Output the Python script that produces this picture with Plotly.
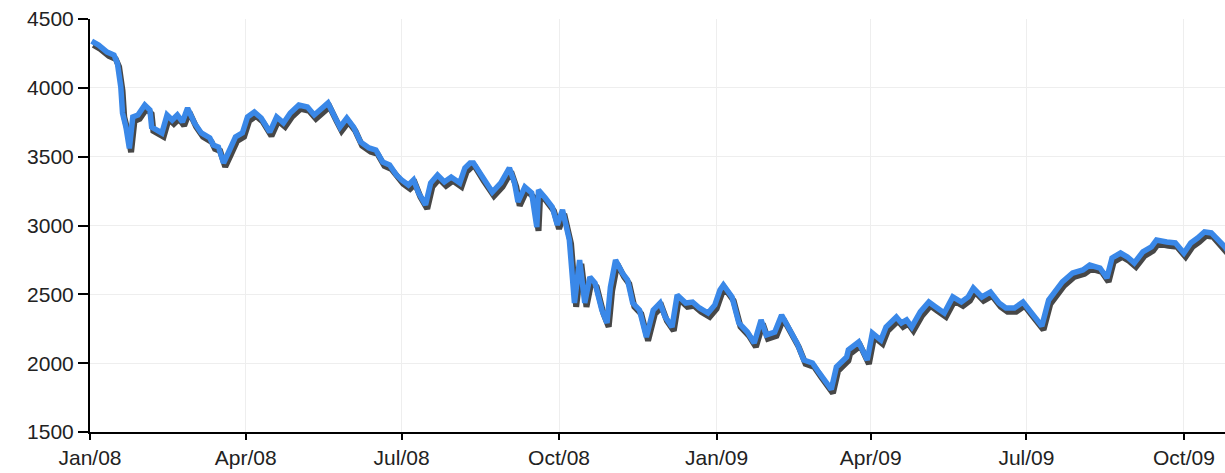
import plotly.graph_objects as go
import pandas as pd

dates = [
    "2008-01-02", "2008-01-06", "2008-01-11", "2008-01-15", "2008-01-17", "2008-01-19", "2008-01-20",
    "2008-01-22", "2008-01-24", "2008-01-26", "2008-01-29", "2008-02-02", "2008-02-05", "2008-02-06",
    "2008-02-12", "2008-02-15", "2008-02-18", "2008-02-21", "2008-02-24", "2008-02-27", "2008-03-02",
    "2008-03-06", "2008-03-11", "2008-03-13", "2008-03-16", "2008-03-19", "2008-03-22", "2008-03-26",
    "2008-03-30", "2008-04-02", "2008-04-06", "2008-04-10", "2008-04-15", "2008-04-19", "2008-04-23",
    "2008-04-27", "2008-05-02", "2008-05-07", "2008-05-11", "2008-05-15", "2008-05-19", "2008-05-23",
    "2008-05-26", "2008-05-30", "2008-06-03", "2008-06-07", "2008-06-12", "2008-06-16", "2008-06-20",
    "2008-06-24", "2008-06-28", "2008-07-01", "2008-07-05", "2008-07-08", "2008-07-11", "2008-07-15",
    "2008-07-18", "2008-07-22", "2008-07-26", "2008-07-30", "2008-08-04", "2008-08-07", "2008-08-10",
    "2008-08-12", "2008-08-17", "2008-08-23", "2008-08-28", "2008-09-02", "2008-09-05", "2008-09-07",
    "2008-09-11", "2008-09-15", "2008-09-18", "2008-09-19", "2008-09-23", "2008-09-27", "2008-09-30",
    "2008-10-03", "2008-10-07", "2008-10-10", "2008-10-13", "2008-10-16", "2008-10-19", "2008-10-22",
    "2008-10-26", "2008-10-29", "2008-10-31", "2008-11-03", "2008-11-07", "2008-11-10", "2008-11-13",
    "2008-11-17", "2008-11-21", "2008-11-25", "2008-11-29", "2008-12-02", "2008-12-06", "2008-12-09",
    "2008-12-14", "2008-12-18", "2008-12-22", "2008-12-27", "2008-12-31", "2009-01-03", "2009-01-05",
    "2009-01-10", "2009-01-14", "2009-01-19", "2009-01-23", "2009-01-27", "2009-01-30", "2009-02-04",
    "2009-02-08", "2009-02-12", "2009-02-17", "2009-02-21", "2009-02-26", "2009-03-02", "2009-03-06",
    "2009-03-09", "2009-03-12", "2009-03-18", "2009-03-19", "2009-03-25", "2009-03-30", "2009-04-02",
    "2009-04-07", "2009-04-10", "2009-04-16", "2009-04-19", "2009-04-22", "2009-04-25", "2009-04-30",
    "2009-05-05", "2009-05-09", "2009-05-14", "2009-05-19", "2009-05-24", "2009-05-28", "2009-05-31",
    "2009-06-05", "2009-06-10", "2009-06-15", "2009-06-19", "2009-06-24", "2009-06-29", "2009-07-04",
    "2009-07-08", "2009-07-10", "2009-07-14", "2009-07-22", "2009-07-28", "2009-08-03", "2009-08-07",
    "2009-08-13", "2009-08-17", "2009-08-20", "2009-08-25", "2009-08-29", "2009-09-02", "2009-09-07",
    "2009-09-12", "2009-09-15", "2009-09-21", "2009-09-26", "2009-10-01", "2009-10-05", "2009-10-09",
    "2009-10-13", "2009-10-17", "2009-10-21", "2009-10-25", "2009-10-28",
]

values = [
    4340, 4311, 4260, 4238, 4180, 4006, 3817,
    3715, 3560, 3788, 3803, 3875, 3839, 3715,
    3672, 3803, 3766, 3803, 3752, 3853, 3745,
    3672, 3636, 3585, 3570, 3454, 3534, 3643,
    3672, 3788, 3824, 3781, 3679, 3788, 3745,
    3817, 3875, 3861, 3803, 3853, 3890, 3788,
    3715, 3781, 3715, 3607, 3563, 3548, 3461,
    3439, 3367, 3331, 3294, 3331, 3236, 3150,
    3309, 3367, 3316, 3352, 3309, 3418, 3454,
    3454, 3352, 3243, 3309, 3418, 3309, 3171,
    3280, 3236, 2989, 3258, 3200, 3134, 3004,
    3113, 2895, 2437, 2749, 2437, 2626, 2582,
    2386, 2292, 2553, 2749, 2655, 2604, 2437,
    2386, 2190, 2386, 2437, 2336, 2263, 2495,
    2437, 2444, 2401, 2364, 2423, 2531, 2568,
    2481, 2292, 2226, 2146, 2314, 2205, 2226,
    2350, 2263, 2146, 2023, 2001, 1929, 1856,
    1810, 1972, 2045, 2096, 2154, 2023, 2219,
    2168, 2263, 2336, 2292, 2314, 2263, 2372,
    2444, 2408, 2364, 2481, 2444, 2481, 2546,
    2481, 2517, 2437, 2401, 2401, 2444, 2364,
    2299, 2270, 2459, 2590, 2655, 2677, 2713,
    2691, 2619, 2764, 2800, 2771, 2728, 2808,
    2844, 2895, 2880, 2873, 2800, 2873, 2909,
    2953, 2946, 2895, 2844, 2790,
]

y_ticks = [1500, 2000, 2500, 3000, 3500, 4000, 4500]

x = pd.to_datetime(dates)
shadow_x = x + pd.Timedelta(days=1)
shadow_y = [v - 28 for v in values]

fig = go.Figure()
fig.add_trace(go.Scatter(
    x=shadow_x, y=shadow_y, mode="lines",
    line=dict(color="rgba(25,25,25,0.8)", width=6),
    hoverinfo="skip", showlegend=False,
))
fig.add_trace(go.Scatter(
    x=x, y=values, mode="lines",
    line=dict(color="#3a88e8", width=5.5),
    showlegend=False,
))

font = dict(family="Liberation Sans, Arial, sans-serif", size=21, color="#222")

fig.update_layout(
    width=1225, height=473,
    margin=dict(l=90, r=0, t=19, b=41),
    paper_bgcolor="white", plot_bgcolor="white",
    font=font,
)
fig.update_xaxes(
    range=["2008-01-01", "2009-10-25"],
    tick0="2008-01-01", dtick="M3", tickformat="%b/%y",
    showline=True, linecolor="black", linewidth=2,
    ticks="outside", ticklen=6, tickwidth=2, tickcolor="black",
    showgrid=True, gridcolor="#eeeeee", gridwidth=1,
    zeroline=False, tickfont=font, ticklabeloverflow="allow",
)
fig.update_yaxes(
    range=[1500, 4500], tickvals=y_ticks,
    showline=True, linecolor="black", linewidth=2,
    ticks="outside", ticklen=10, tickwidth=2, tickcolor="black",
    showgrid=True, gridcolor="#eeeeee", gridwidth=1,
    zeroline=False, tickfont=font, ticklabeloverflow="allow",
)

fig.write_html(
    "out.html",
    config={"displayModeBar": False},
    post_script="document.body.style.margin='0';document.body.style.overflow='hidden';",
)
